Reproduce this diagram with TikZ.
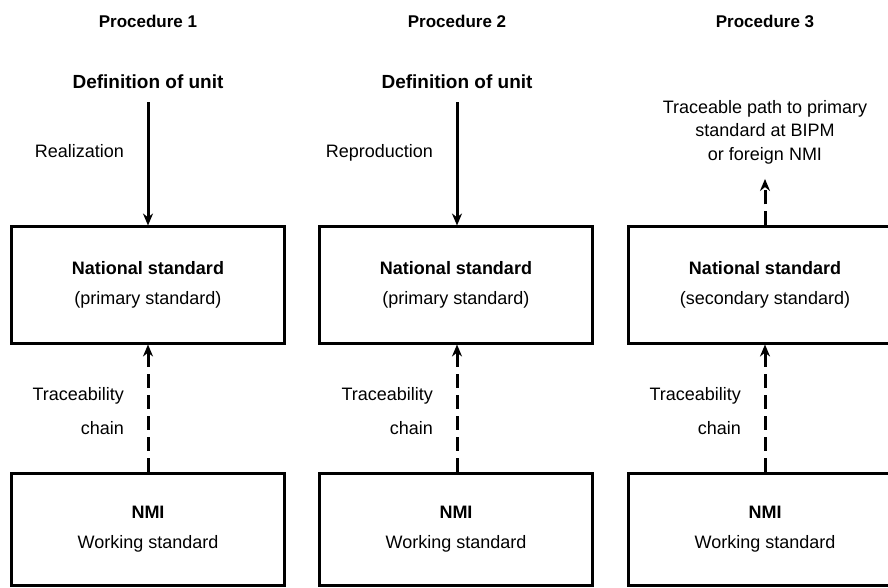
\documentclass[tikz,border=0pt]{standalone}
\usepackage{fontspec}
\setmainfont{Liberation Sans}
\usetikzlibrary{arrows.meta}

\begin{document}
\begin{tikzpicture}[x=0.5pt,y=-0.5pt,
	proctitle/.style={font=\bfseries\fontsize{8.5}{10}\selectfont},
	deftitle/.style={font=\bfseries\fontsize{9.5}{11}\selectfont},
	lbl/.style={font=\fontsize{9}{11}\selectfont},
	sidelbl/.style={lbl,anchor=east,text height=6.5pt,text depth=2pt},
	natbox/.style={draw,line width=1.5pt,minimum width=136.5pt,minimum height=58pt,align=center,font=\fontsize{9}{10}\selectfont},
	nmibox/.style={natbox,minimum height=56pt},
	link/.style={line width=1.5pt,-{Stealth[length=6pt,width=5pt]}},
	tracelink/.style={link,dash pattern=on 7pt off 3.5pt}]

	\useasboundingbox (0,0) rectangle (888,588);

	\pgfmathsetmacro{\colA}{148}
	\pgfmathsetmacro{\colB}{457}
	\pgfmathsetmacro{\colC}{765}

	% headings
	\node[proctitle] (proc1) at (\colA,21) {Procedure 1};
	\node[proctitle] (proc2) at (\colB,21) {Procedure 2};
	\node[proctitle] (proc3) at (\colC,21) {Procedure 3};

	% procedure 1
	\node[deftitle] (def1) at (\colA,82) {Definition of unit};
	\node[natbox] (nat1) at (\colA,285) {\textbf{National standard}\\[5pt](primary standard)};
	\node[nmibox] (nmi1) at (\colA,529) {\textbf{NMI}\\[5pt]Working standard};
	\draw[link,shorten <=3pt] (def1) -- (nat1);
	\draw[tracelink] (nmi1) -- (nat1);
	\node[sidelbl] (real1) at (\colA-17,153) {Realization};
	\node[lbl,anchor=east,align=right] (chain1) at (\colA-17,411) {Traceability\\[6pt]chain};

	% procedure 2
	\node[deftitle] (def2) at (\colB,82) {Definition of unit};
	\node[natbox] (nat2) at (\colB-1,285) {\textbf{National standard}\\[5pt](primary standard)};
	\node[nmibox] (nmi2) at (\colB-1,529) {\textbf{NMI}\\[5pt]Working standard};
	\draw[link,shorten <=3pt] (def2.south) -- (nat2.north -| def2.south);
	\draw[tracelink] (nmi2.north -| def2.south) -- (nat2.south -| def2.south);
	\node[sidelbl] (repr2) at (\colB-17,153) {Reproduction};
	\node[lbl,anchor=east,align=right] (chain2) at (\colB-17,411) {Traceability\\[6pt]chain};

	% procedure 3
	\node[lbl,align=center,font=\fontsize{9}{11.75}\selectfont] (path3) at (\colC,132) {Traceable path to primary\\standard at BIPM\\or foreign NMI};
	\node[natbox] (nat3) at (\colC,285) {\textbf{National standard}\\[5pt](secondary standard)};
	\node[nmibox] (nmi3) at (\colC,529) {\textbf{NMI}\\[5pt]Working standard};
	\draw[tracelink,shorten >=4pt] (nat3) -- (path3);
	\draw[tracelink] (nmi3) -- (nat3);
	\node[lbl,anchor=east,align=right] (chain3) at (\colC-17,411) {Traceability\\[6pt]chain};

\end{tikzpicture}
\end{document}
